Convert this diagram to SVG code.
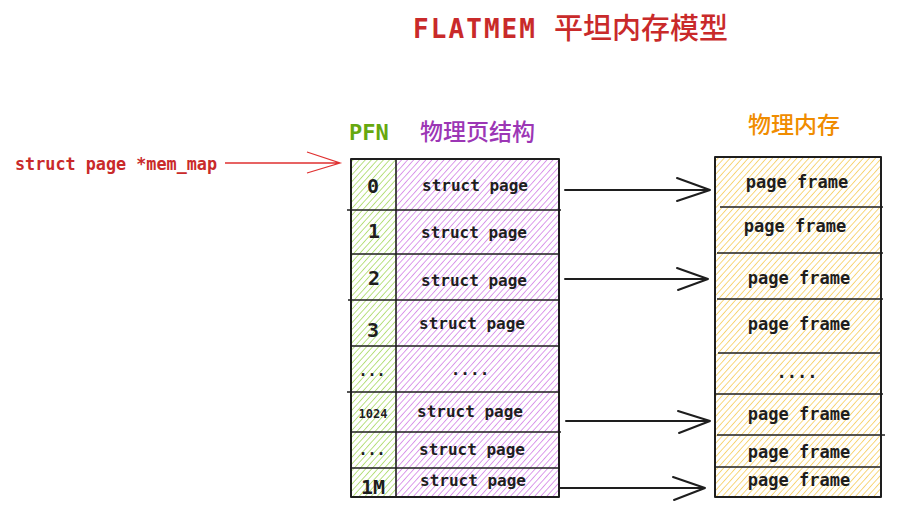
<svg xmlns="http://www.w3.org/2000/svg" width="915" height="522" viewBox="0 0 915 522">
<style>
.mono{font-family:"DejaVu Sans Mono","Liberation Mono",monospace;fill:#1e1e1e;font-weight:bold}
.cell{font-size:16px;text-anchor:middle}
.frm{font-size:17px;text-anchor:middle}
.num{font-size:20px;text-anchor:middle}
.cjk{font-family:"Noto Sans CJK SC","Noto Sans",sans-serif;font-weight:500}
.edge{stroke:#1e1e1e;stroke-width:2;fill:none;stroke-linecap:round;stroke-linejoin:round}
.div{stroke:#1e1e1e;stroke-width:1.6;fill:none}
.red{stroke:#e03131;stroke-width:1.3;fill:none}
</style>
<defs>
<pattern id="hg" width="4.5" height="4.5" patternUnits="userSpaceOnUse" patternTransform="rotate(42)"><line x1="0" y1="0" x2="0" y2="4.5" stroke="#82c91e" stroke-width="1.1"/></pattern>
<pattern id="hp" width="4.5" height="4.5" patternUnits="userSpaceOnUse" patternTransform="rotate(42)"><line x1="0" y1="0" x2="0" y2="4.5" stroke="#be4bdb" stroke-width="1.1"/></pattern>
<pattern id="hy" width="4.5" height="4.5" patternUnits="userSpaceOnUse" patternTransform="rotate(42)"><line x1="0" y1="0" x2="0" y2="4.5" stroke="#f2b714" stroke-width="1.1"/></pattern>
</defs>
<rect width="915" height="522" fill="#ffffff"/>

<g id="title">
<text class="mono" x="413" y="38" font-size="26" style="fill:#c92a2a" textLength="122" lengthAdjust="spacing">FLATMEM</text>
<text class="cjk" x="554" y="39" font-size="29" fill="#c92a2a">平坦内存模型</text>
</g>

<g id="labels">
<text class="mono" x="349" y="140" font-size="22" style="fill:#66a80f">PFN</text>
<text class="cjk" x="420" y="140" font-size="23" fill="#9c36b5">物理页结构</text>
<text class="cjk" x="748" y="133" font-size="23" fill="#f08c00">物理内存</text>
</g>

<g id="pfn-column">
<rect x="351" y="159" width="45" height="338" fill="url(#hg)"/>
<text class="mono num" x="373" y="193">0</text>
<text class="mono num" x="374" y="238">1</text>
<text class="mono num" x="374" y="285">2</text>
<text class="mono num" x="373" y="337">3</text>
<text class="mono" x="372" y="376" font-size="15" text-anchor="middle">...</text>
<text class="mono" x="373" y="418" font-size="12" text-anchor="middle">1024</text>
<text class="mono" x="372" y="455" font-size="15" text-anchor="middle">...</text>
<text class="mono num" x="373" y="494">1M</text>
</g>

<g id="struct-page-array">
<rect x="396" y="159" width="163" height="338" fill="url(#hp)"/>
<text class="mono cell" x="475" y="191">struct page</text>
<text class="mono cell" x="474" y="238">struct page</text>
<text class="mono cell" x="474" y="286">struct page</text>
<text class="mono cell" x="472" y="329">struct page</text>
<text class="mono cell" x="470" y="375">....</text>
<text class="mono cell" x="470" y="417">struct page</text>
<text class="mono cell" x="472" y="455">struct page</text>
<text class="mono cell" x="473" y="486">struct page</text>
</g>

<g id="left-grid">
<rect class="edge" x="351" y="159" width="208" height="338"/>
<line class="div" x1="396" y1="158" x2="396" y2="498"/>
<line class="div" x1="347" y1="210" x2="561" y2="210"/>
<line class="div" x1="351" y1="254" x2="559" y2="254"/>
<line class="div" x1="348" y1="300" x2="558" y2="300"/>
<line class="div" x1="351" y1="346" x2="559" y2="346"/>
<line class="div" x1="347" y1="392" x2="559" y2="392"/>
<line class="div" x1="351" y1="432" x2="561" y2="432"/>
<line class="div" x1="351" y1="468" x2="559" y2="468"/>
</g>

<g id="physical-memory">
<rect x="715" y="157" width="166" height="340" fill="url(#hy)"/>
<text class="mono frm" x="797" y="188">page frame</text>
<text class="mono frm" x="795" y="232">page frame</text>
<text class="mono frm" x="799" y="284">page frame</text>
<text class="mono frm" x="799" y="330">page frame</text>
<text class="mono frm" x="797" y="378">....</text>
<text class="mono frm" x="799" y="420">page frame</text>
<text class="mono frm" x="799" y="458">page frame</text>
<text class="mono frm" x="799" y="486">page frame</text>
<rect class="edge" x="715" y="157" width="166" height="340"/>
<line class="div" x1="720" y1="207" x2="883" y2="207"/>
<line class="div" x1="717" y1="253" x2="883" y2="253"/>
<line class="div" x1="717" y1="299" x2="883" y2="299"/>
<line class="div" x1="718" y1="353" x2="881" y2="353"/>
<line class="div" x1="715" y1="394" x2="883" y2="394"/>
<line class="div" x1="717" y1="435" x2="885" y2="435"/>
<line class="div" x1="715" y1="467" x2="881" y2="467"/>
</g>

<g id="connectors">
<text class="mono" x="15" y="170" font-size="16.8" style="fill:#c92a2a">struct page *mem_map</text>
<path class="red" d="M225 163 L340 163 M307 152 L340 163 L307 173"/>
<path class="edge" d="M565 190 L710 190 M677 178 L710 190 L677 201"/>
<path class="edge" d="M565 279 L708 279 M677 268 L708 279 L678 290"/>
<path class="edge" d="M566 421 L710 421 M678 411 L710 421 L679 433"/>
<path class="edge" d="M560 488 L705 488 M673 477 L705 488 L674 500"/>
</g>
</svg>
